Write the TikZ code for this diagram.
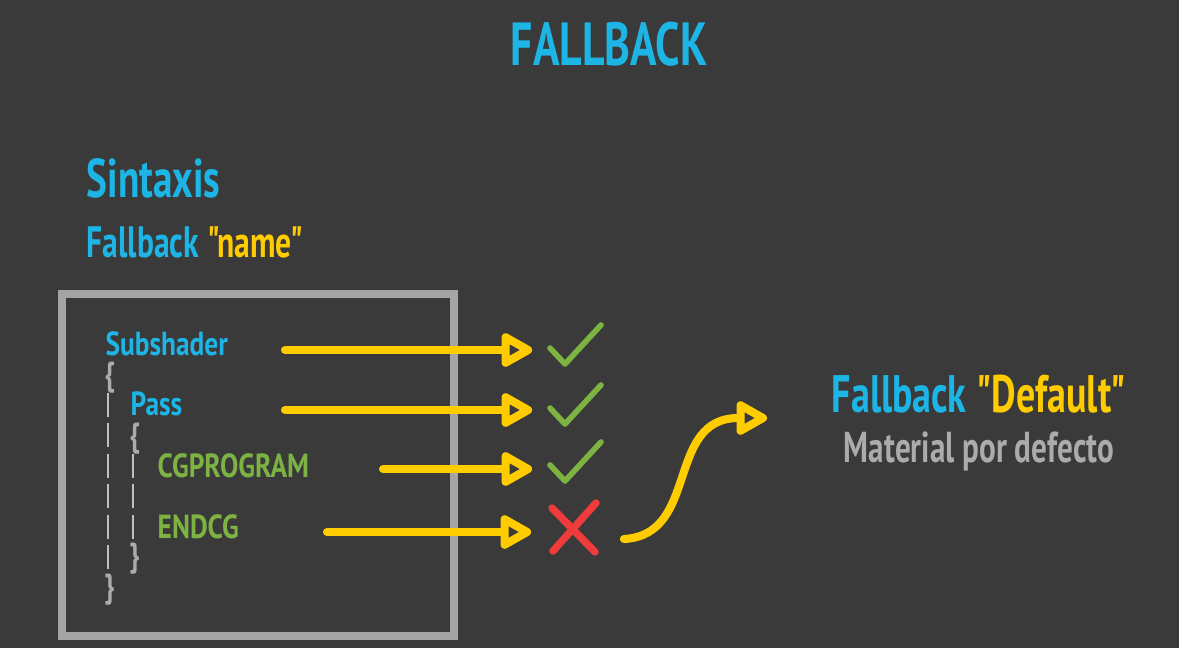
\documentclass[tikz,border=0pt]{standalone}
\usepackage{fontspec}
\setmainfont{PT Sans}[FakeStretch=0.72, Ligatures=TeXOff]
\newfontfamily\codefont{PT Sans}[FakeStretch=0.82]
\usepackage{tikz}
\usetikzlibrary{arrows.meta, positioning}

\definecolor{bg}{HTML}{3A3A3A}
\definecolor{sky}{HTML}{1DB5E5}
\definecolor{gold}{HTML}{FFCC00}
\definecolor{leaf}{HTML}{7CB342}
\definecolor{alert}{HTML}{EF3B3B}
\definecolor{frame}{HTML}{A4A4A4}
\definecolor{soft}{HTML}{ABABAB}

\begin{document}
\begin{tikzpicture}[x=0.01cm, y=-0.01cm]
        \tikzset{code/.style={anchor=base west, inner sep=0pt, font=\codefont\bfseries\fontsize{9.5}{9.5}\selectfont},
                 brace/.style={code, text=soft},
                 guide/.style={draw=frame!70, line width=0.8pt},
                 flow/.style={draw=gold, line width=2.3pt, line cap=round,
                              -{Triangle[open, length=10pt, width=10.5pt, line join=round]}},
                 tick/.style={draw=leaf, line width=1.6pt, line cap=round, line join=round},
                 cross/.style={draw=alert, line width=2.1pt, line cap=round}}
        \tikzstyle{mark spot}=[minimum width=24pt, minimum height=15pt, inner sep=0pt]

        \fill[bg] (0,0) rectangle (1179,648);

        % title and syntax line
        \node[anchor=base, text=sky, font=\bfseries\fontsize{17.3}{17.3}\selectfont] (title) at (609,65) {FALLBACK};
        \node[anchor=base west, inner sep=0pt, text=sky, font=\bfseries\fontsize{15.5}{15.5}\selectfont] (sintax) at (86,197) {Sintaxis};
        \node[anchor=base west, inner sep=0pt, font=\bfseries\fontsize{12.5}{12.5}\selectfont] (usage) at (86,257)
            {\textcolor{sky}{Fallback} \textcolor{gold}{"name"}};

        % code box
        \draw[frame, line width=2.3pt] (62,294) rectangle (454,636);
        \node[code, text=sky] (sub) at (105,355) {Subshader};
        \node[brace] (ob1) at (104,385) {\{};
        \node[code, text=sky] (pass) at (130,415) {Pass};
        \node[brace] (ob2) at (129,446) {\{};
        \node[code, text=leaf] (cg) at (157,477) {CGPROGRAM};
        \node[code, text=leaf] (endcg) at (157,538) {ENDCG};
        \node[brace] (cb2) at (129,566) {\}};
        \node[brace] (cb1) at (104,597) {\}};
        \foreach \y in {393,423,454,484,515,545}
            \draw[guide] (108,\y) -- (108,\y+24);
        \foreach \y in {454,484,515}
            \draw[guide] (133,\y) -- (133,\y+24);

        % results
        \node[mark spot] (ok1) at (575,345) {};
        \node[mark spot] (ok2) at (575,405) {};
        \node[mark spot] (ok3) at (575,462) {};
        \node[mark spot] (bad) at (574,528) {};
        \foreach \n in {ok1,ok2,ok3}
            \draw[tick] (\n.center) ++(-25,3) -- ++(15,16) -- ++(36,-39);
        \draw[cross] (bad.center) ++(-22,-20) -- ++(43,44);
        \draw[cross] (bad.center) ++(22,-25) -- ++(-43,48);

        \coordinate (s1) at (285,350);
        \coordinate (s2) at (285,410);
        \coordinate (s3) at (383,469);
        \coordinate (s4) at (327,532);
        \draw[flow] (s1) -- (ok1.west |- s1);
        \draw[flow] (s2) -- (ok2.west |- s2);
        \draw[flow] (s3) -- (ok3.west |- s3);
        \draw[flow] (s4) -- (bad.west |- s4);

        % default material
        \node[anchor=base, inner sep=0pt, font=\bfseries\fontsize{15}{15}\selectfont] (dflt) at (979,412)
            {\textcolor{sky}{Fallback} \textcolor{gold}{"Default"}};
        \node[below=5pt of dflt, inner sep=0pt, text=soft, font=\bfseries\fontsize{12.3}{12.3}\selectfont] (matl) {Material por defecto};
        \coordinate (tip) at (767,418);
        \draw[flow] (bad.east) ++(7,11) .. controls (700,535) and (665,418) .. (tip);
\end{tikzpicture}
\end{document}
